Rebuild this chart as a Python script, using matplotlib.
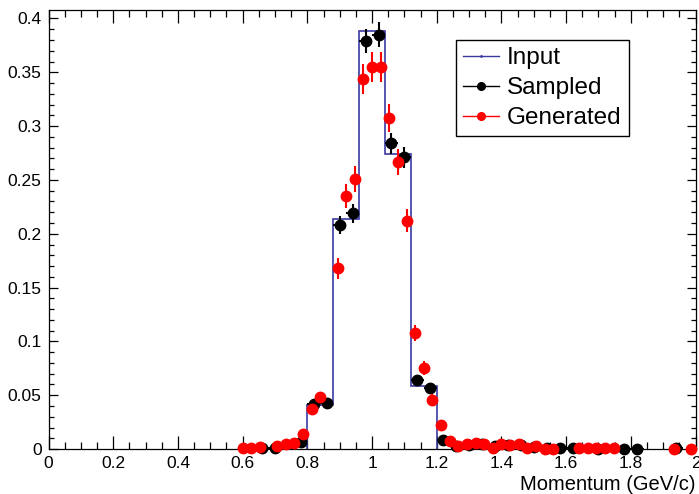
import numpy as np
import matplotlib.pyplot as plt
from matplotlib.lines import Line2D
from matplotlib.ticker import MultipleLocator, FormatStrFormatter

plt.rcParams['font.family'] = ['Liberation Sans', 'DejaVu Sans']

# input momentum distribution, 0.08 GeV/c bins (empty outside)
input_edges = [0.80, 0.88, 0.96, 1.04, 1.12, 1.20]
input_vals = [0.041, 0.214, 0.388, 0.274, 0.059]

# sampled histogram, 0.04 GeV/c bins (non-empty bins only)
sampled_x = [0.66, 0.70, 0.78, 0.82, 0.86, 0.90, 0.94, 0.98, 1.02, 1.06,
             1.10, 1.14, 1.18, 1.22, 1.26, 1.30, 1.34, 1.38, 1.42, 1.46,
             1.50, 1.54, 1.58, 1.62, 1.70, 1.78, 1.82, 1.94]
sampled_y = [0.0012, 0.0008, 0.0065, 0.042, 0.043, 0.208, 0.219, 0.379, 0.385, 0.284,
             0.271, 0.064, 0.057, 0.008, 0.003, 0.004, 0.005, 0.003, 0.004, 0.004,
             0.002, 0.001, 0.001, 0.001, 0.0005, 0.0005, 0.0005, 0.001]

# generated histogram, 2/75 GeV/c bins (non-empty bins only)
generated_x = [0.6000, 0.6267, 0.6533, 0.7067, 0.7333, 0.7600, 0.7867, 0.8133, 0.8400,
               0.8933, 0.9200, 0.9467, 0.9733, 1.0000, 1.0267, 1.0533, 1.0800, 1.1067, 1.1333,
               1.1600, 1.1867, 1.2133, 1.2400, 1.2667, 1.2933, 1.3200, 1.3467, 1.3733, 1.4000,
               1.4267, 1.4533, 1.4800, 1.5067, 1.5333, 1.5600, 1.6400, 1.6667, 1.6933, 1.7200,
               1.7467, 1.9333, 1.9867]
generated_y = [0.0008, 0.0008, 0.0015, 0.003, 0.0045, 0.006, 0.014, 0.037, 0.048,
               0.168, 0.235, 0.251, 0.344, 0.355, 0.355, 0.308, 0.267, 0.212, 0.108,
               0.075, 0.046, 0.022, 0.0075, 0.003, 0.005, 0.0055, 0.005, 0.001, 0.0043,
               0.0037, 0.0046, 0.001, 0.003, 0.0005, 0.0005, 0.0008, 0.0008, 0.0008, 0.0008,
               0.0008, 0.0005, 0.0005]

sampled_bw = 0.04
generated_bw = 2.0 / 75
# poisson errors on the normalised contents
sampled_err = np.sqrt(np.array(sampled_y) * 3.5e-4)
generated_err = np.sqrt(np.array(generated_y) * 5.5e-4)

blue = '#3a3aa3'

fig = plt.figure(figsize=(6.99, 4.94), dpi=100)
ax = fig.add_axes([0.0695, 0.091, 0.9255, 0.889])

ax.stairs(input_vals, input_edges, baseline=0, color=blue, lw=1.2, zorder=2)

ax.errorbar(sampled_x, sampled_y, yerr=sampled_err, xerr=sampled_bw / 2,
            fmt='o', color='black', ms=7.5, elinewidth=1.5, capsize=0,
            clip_on=False, zorder=3)
ax.errorbar(generated_x, generated_y, yerr=generated_err, xerr=generated_bw / 2,
            fmt='o', color='red', ms=7.5, elinewidth=1.5, capsize=0,
            clip_on=False, zorder=4)

ax.set_xlim(0, 2)
ax.set_ylim(0, 0.408)

ax.xaxis.set_major_locator(MultipleLocator(0.2))
ax.xaxis.set_minor_locator(MultipleLocator(0.05))
ax.yaxis.set_major_locator(MultipleLocator(0.05))
ax.yaxis.set_minor_locator(MultipleLocator(0.01))
ax.xaxis.set_major_formatter(FormatStrFormatter('%g'))
ax.yaxis.set_major_formatter(FormatStrFormatter('%g'))

ax.tick_params(axis='both', which='both', direction='in', top=True, right=True,
               labelsize=12.5, width=0.9)
ax.tick_params(axis='x', which='major', length=9.5, pad=5)
ax.tick_params(axis='x', which='minor', length=5)
ax.tick_params(axis='y', which='major', length=6.5, pad=5)
ax.tick_params(axis='y', which='minor', length=3.3)
for s in ax.spines.values():
    s.set_linewidth(0.9)

ax.set_xlabel('Momentum (GeV/c)', loc='right', fontsize=14.5, labelpad=3)

handles = [
    Line2D([], [], color=blue, lw=1, marker='.', ms=2),
    Line2D([], [], color='black', lw=1, marker='o', ms=5.5),
    Line2D([], [], color='red', lw=1, marker='o', ms=5.5),
]
ax.legend(handles, ['Input', 'Sampled', 'Generated'], loc='upper left',
          bbox_to_anchor=(0.63, 0.932), fontsize=17.5, frameon=True,
          fancybox=False, framealpha=1, edgecolor='black', borderaxespad=0,
          handlelength=1.45, handletextpad=0.35, labelspacing=0.33,
          borderpad=0.3).get_frame().set_linewidth(1.0)

fig.savefig('out.png', dpi=100)
